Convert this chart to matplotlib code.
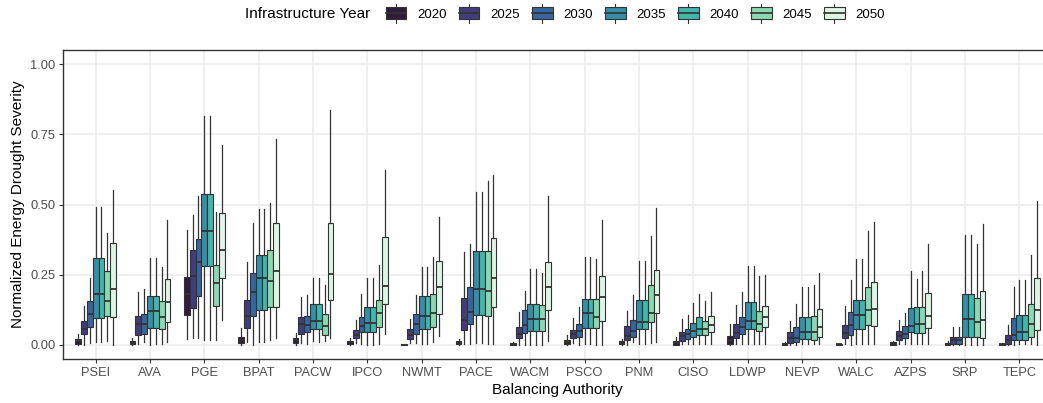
import numpy as np
import matplotlib
matplotlib.use("Agg")
import matplotlib.pyplot as plt
from matplotlib.patches import Patch, Rectangle
from matplotlib.lines import Line2D
from matplotlib.legend_handler import HandlerBase

plt.rcParams['font.family'] = ['Liberation Sans', 'DejaVu Sans']

# balancing authorities and scenario years
bas = ["PSEI", "AVA", "PGE", "BPAT", "PACW", "IPCO", "NWMT", "PACE", "WACM",
       "PSCO", "PNM", "CISO", "LDWP", "NEVP", "WALC", "AZPS", "SRP", "TEPC"]
years = ["2020", "2025", "2030", "2035", "2040", "2045", "2050"]
colors = ["#2E1E3C", "#413D7B", "#37659E", "#348FA7", "#40B7AD", "#8AD9B1", "#DEF5E5"]

# box stats per BA (rows) and year (columns)
whis_lo = [
    [0, 0, .006, .01, .01, .014, 0],
    [0, .005, .012, 0, .004, .004, .012],
    [.02, .026, .024, .018, .018, .019, .089],
    [0, .012, 0, .009, .012, .018, .026],
    [0, .006, .004, .014, .012, .014, .026],
    [0, .006, .004, 0, 0, .004, .038],
    [0, .006, .006, .004, .004, .012, .032],
    [0, .004, .004, .006, .006, .004, .004],
    [0, 0, 0, 0, 0, 0, .014],
    [0, .006, 0, .004, .004, 0, 0],
    [0, 0, .009, .004, .004, .006, .009],
    [0, .004, .004, .004, .004, .004, .004],
    [0, .004, .004, .004, .004, .004, .004],
    [0, 0, 0, .004, .004, .004, .004],
    [0, .004, 0, .004, .004, .004, .004],
    [0, .004, .004, .004, .004, .004, .004],
    [0, 0, 0, 0, 0, 0, 0],
    [0, 0, 0, .004, .004, .004, 0],
]
q1 = [
    [.005, .039, .063, .095, .095, .103, .098],
    [.002, .034, .038, .059, .059, .056, .082],
    [.108, .133, .176, .281, .281, .138, .24],
    [.007, .059, .102, .125, .125, .134, .136],
    [.008, .038, .045, .056, .056, .036, .16],
    [.004, .023, .045, .047, .047, .065, .145],
    [0, .02, .038, .056, .056, .063, .11],
    [.002, .053, .074, .106, .106, .103, .134],
    [0, .023, .042, .051, .051, .051, .125],
    [.004, .023, .03, .059, .059, .062, .085],
    [.002, .018, .027, .056, .056, .082, .115],
    [.001, .015, .021, .03, .034, .034, .045],
    [.004, .025, .039, .056, .056, .049, .063],
    [0, .006, .009, .02, .02, .018, .03],
    [0, .023, .037, .056, .056, .071, .069],
    [0, .018, .024, .045, .044, .042, .059],
    [0, .004, .004, .03, .03, .03, .026],
    [0, .004, .017, .018, .018, .03, .053],
]
med = [
    [.013, .056, .11, .183, .183, .158, .2],
    [.007, .074, .076, .121, .121, .1, .152],
    [.181, .246, .295, .405, .405, .222, .337],
    [.018, .104, .187, .24, .24, .228, .265],
    [.017, .075, .071, .085, .085, .068, .251],
    [.009, .034, .069, .077, .077, .113, .211],
    [.001, .036, .075, .103, .103, .115, .206],
    [.008, .089, .119, .198, .198, .192, .238],
    [.005, .04, .071, .094, .094, .094, .206],
    [.011, .04, .051, .115, .115, .098, .171],
    [.008, .033, .051, .082, .082, .115, .177],
    [.007, .031, .038, .049, .056, .056, .071],
    [.019, .042, .063, .085, .085, .075, .098],
    [.004, .023, .026, .045, .045, .045, .063],
    [.002, .042, .071, .107, .107, .125, .127],
    [.005, .033, .039, .069, .076, .076, .103],
    [.004, .017, .017, .091, .091, .082, .089],
    [.002, .017, .036, .046, .046, .075, .124],
]
q3 = [
    [.021, .087, .158, .31, .31, .265, .362],
    [.013, .104, .109, .176, .176, .158, .234],
    [.241, .337, .376, .537, .537, .286, .47],
    [.03, .16, .257, .319, .319, .337, .433],
    [.024, .101, .104, .146, .146, .109, .434],
    [.014, .052, .101, .134, .134, .16, .386],
    [.003, .056, .109, .174, .174, .18, .299],
    [.014, .166, .208, .335, .335, .335, .38],
    [.008, .063, .123, .145, .145, .142, .294],
    [.019, .053, .074, .164, .164, .164, .247],
    [.014, .068, .089, .16, .16, .212, .266],
    [.013, .047, .058, .077, .098, .084, .103],
    [.033, .074, .101, .153, .153, .121, .14],
    [.007, .045, .064, .101, .101, .102, .127],
    [.004, .07, .117, .159, .159, .208, .225],
    [.009, .05, .068, .133, .136, .134, .184],
    [.008, .03, .03, .181, .181, .166, .191],
    [.005, .034, .096, .106, .106, .146, .24],
]
whis_hi = [
    [.038, .14, .237, .49, .49, .40, .55],
    [.023, .19, .2, .31, .31, .276, .445],
    [.41, .461, .53, .814, .814, .473, .713],
    [.059, .294, .434, .483, .483, .504, .732],
    [.042, .17, .178, .237, .237, .214, .836],
    [.026, .089, .181, .238, .238, .285, .623],
    [.005, .091, .178, .279, .279, .312, .457],
    [.021, .331, .358, .545, .545, .585, .604],
    [.012, .119, .193, .272, .272, .255, .529],
    [.036, .095, .134, .312, .312, .305, .445],
    [.021, .122, .177, .299, .299, .389, .486],
    [.027, .091, .106, .148, .18, .157, .187],
    [.074, .141, .19, .28, .28, .246, .248],
    [.01, .087, .145, .205, .205, .212, .255],
    [.004, .139, .23, .305, .305, .405, .439],
    [.014, .089, .113, .262, .236, .262, .359],
    [.015, .065, .065, .391, .391, .359, .431],
    [.006, .071, .205, .23, .23, .319, .514],
]

edge = '#333333'


class BoxHandler(HandlerBase):
    # mini boxplot glyph like the ggplot legend key
    def create_artists(self, legend, orig_handle, xdescent, ydescent,
                       width, height, fontsize, trans):
        x0, y0 = -xdescent, -ydescent
        xc = x0 + width / 2
        box = Rectangle((x0, y0), width, height, facecolor=orig_handle.get_facecolor(),
                        edgecolor=edge, lw=0.8, transform=trans)
        mline = Line2D([x0, x0 + width], [y0 + height / 2] * 2, color=edge, lw=1.2, transform=trans)
        wtop = Line2D([xc, xc], [y0 + height, y0 + height * 1.3], color=edge, lw=0.8, transform=trans)
        wbot = Line2D([xc, xc], [y0, y0 - height * 0.3], color=edge, lw=0.8, transform=trans)
        return [wtop, wbot, box, mline]


fig = plt.figure(figsize=(10.43, 4.03), dpi=100)
ax = fig.add_axes([63 / 1043, 44 / 403, (1052 - 63) / 1043, (359 - 50) / 403])

n = len(years)
bw = 0.75 / n
x = np.arange(len(bas))
for j in range(n):
    stats = []
    for i in range(len(bas)):
        stats.append(dict(whislo=whis_lo[i][j], q1=q1[i][j], med=med[i][j],
                          q3=q3[i][j], whishi=whis_hi[i][j], fliers=[]))
    ax.bxp(stats, positions=x + (j - (n - 1) / 2) * bw, widths=bw,
           patch_artist=True, showfliers=False, showcaps=False, manage_ticks=False,
           boxprops=dict(facecolor=colors[j], edgecolor=edge, lw=0.8),
           medianprops=dict(color=edge, lw=1.3),
           whiskerprops=dict(color=edge, lw=0.9))

ax.set_xlim(-0.6, len(bas) - 0.4)
ax.set_ylim(-0.05, 1.05)
ax.set_xticks(x)
ax.set_xticklabels(bas)
ax.set_yticks([0, 0.25, 0.5, 0.75, 1.0])
ax.set_yticklabels(["0.00", "0.25", "0.50", "0.75", "1.00"])
ax.grid(color='#EBEBEB', lw=1.1)
ax.set_axisbelow(True)
for s in ax.spines.values():
    s.set_color(edge)
    s.set_linewidth(1.0)
ax.tick_params(length=3, color=edge, labelcolor='#4D4D4D', labelsize=9.3, pad=2.5)
ax.set_xlabel("Balancing Authority", fontsize=11, labelpad=3)
ax.set_ylabel("Normalized Energy Drought Severity", fontsize=11, labelpad=4)

fig.text(245 / 1043, 1 - 14 / 403, "Infrastructure Year", fontsize=11, va='center', ha='left')
fig.legend(handles=[Patch(facecolor=c) for c in colors], labels=years,
           loc='center left', bbox_to_anchor=(386 / 1043, 1 - 14 / 403), ncol=n,
           frameon=False, handler_map={Patch: BoxHandler()}, handlelength=1.55,
           handleheight=1.0, handletextpad=0.8, columnspacing=0.95,
           borderpad=0, borderaxespad=0, fontsize=9.5)

fig.savefig("out.png", dpi=100)
plt.close(fig)
